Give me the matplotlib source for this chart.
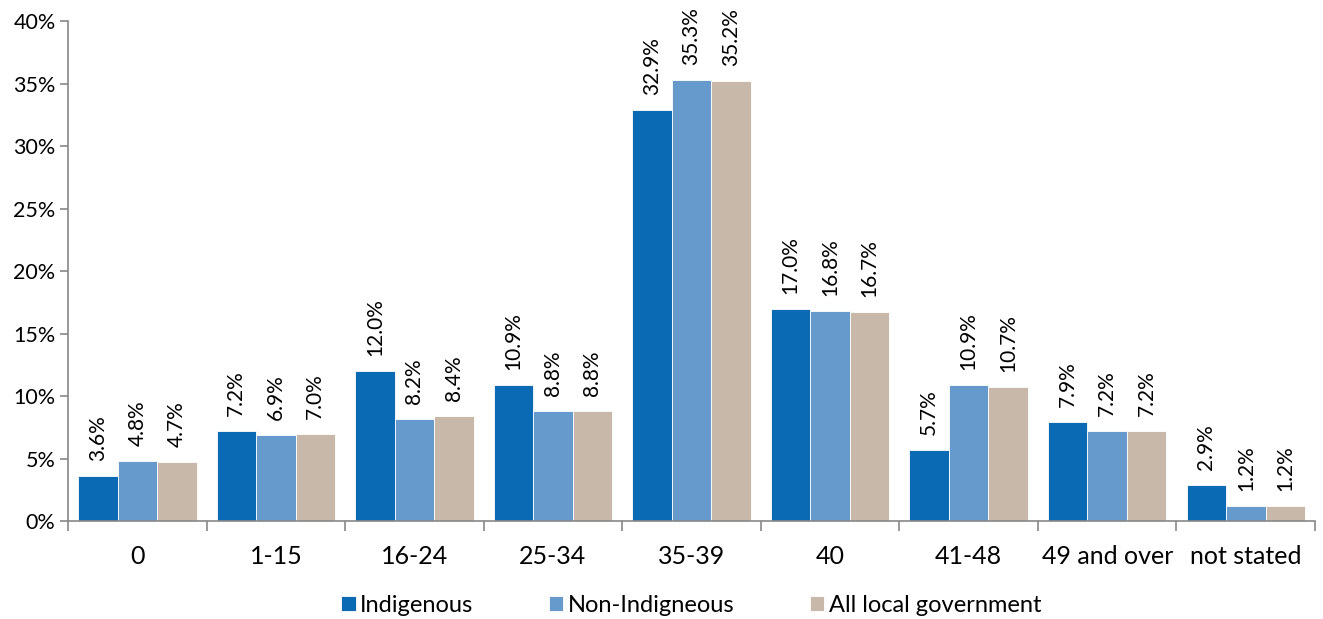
import matplotlib
matplotlib.use("Agg")
import matplotlib.pyplot as plt
import numpy as np
from matplotlib.ticker import FixedLocator, NullFormatter

categories = ["0", "1-15", "16-24", "25-34", "35-39", "40", "41-48", "49 and over", "not stated"]
indigenous = [3.6, 7.2, 12.0, 10.9, 32.9, 17.0, 5.7, 7.9, 2.9]
non_indigenous = [4.8, 6.9, 8.2, 8.8, 35.3, 16.8, 10.9, 7.2, 1.2]
all_local = [4.7, 7.0, 8.4, 8.8, 35.2, 16.7, 10.7, 7.2, 1.2]
series_names = ["Indigenous", "Non-Indigneous", "All local government"]
colors = ["#0A6AB4", "#6699CC", "#C8B8AA"]

plt.rcParams['font.family'] = ['Lato', 'DejaVu Sans']

fig = plt.figure(figsize=(13.23, 6.19), dpi=100)
ax = fig.add_axes([0.0514, 0.158, 0.9426, 0.808])

x = np.arange(len(categories))
w = 0.285
for i, (vals, name, c) in enumerate(zip([indigenous, non_indigenous, all_local], series_names, colors)):
    pos = x + (i - 1) * w
    ax.bar(pos, vals, width=w, color=c, label=name, edgecolor='white', linewidth=0.6)
    for p, v in zip(pos, vals):
        ax.text(p, v + 1.2, f"{v:.1f}%", rotation=90, ha='center', va='bottom', fontsize=15)

ax.set_xlim(-0.5, len(categories) - 0.5)
ax.set_ylim(0, 40)
ax.set_yticks(np.arange(0, 41, 5))
ax.set_yticklabels([f"{v}%" for v in range(0, 41, 5)], fontsize=15.5)
ax.set_xticks(x)
ax.set_xticklabels(categories, fontsize=18)
ax.tick_params(axis='x', which='major', length=0, pad=17)
ax.xaxis.set_minor_locator(FixedLocator(np.arange(-0.5, len(categories), 1.0)))
ax.xaxis.set_minor_formatter(NullFormatter())
ax.tick_params(axis='x', which='minor', length=7, color='#888888', width=1.2)
ax.tick_params(axis='y', length=6, color='#888888', width=1.2, pad=3)
for s in ['top', 'right']:
    ax.spines[s].set_visible(False)
for s in ['left', 'bottom']:
    ax.spines[s].set_color('#888888')
    ax.spines[s].set_linewidth(1.2)

ax.legend(loc='center', bbox_to_anchor=(0.5, -0.168), ncol=3, frameon=False,
          fontsize=17, handlelength=0.6, handleheight=0.6, handletextpad=0.2, columnspacing=3.2)

fig.savefig("out.png", dpi=100)
